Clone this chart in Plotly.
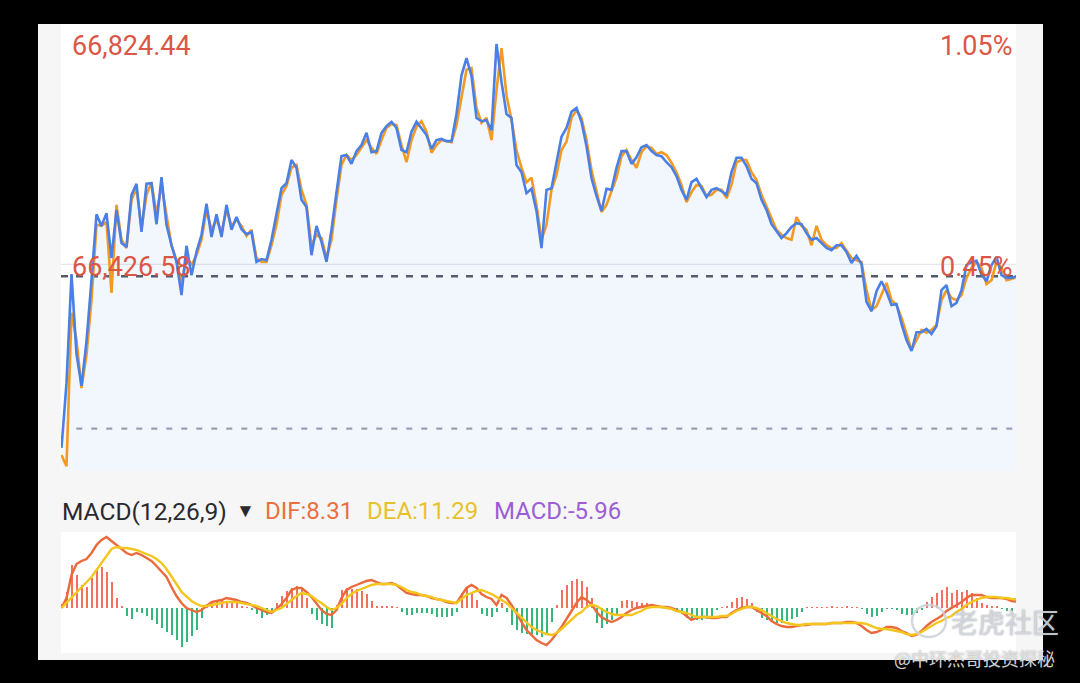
import plotly.graph_objects as go

# intraday price (blue) and the lagging average line (orange)
price = [
    66095, 66212, 66409, 66265, 66207, 66288, 66398, 66517, 66496, 66519,
    66438, 66525, 66465, 66458, 66552, 66572, 66485, 66572, 66573, 66499,
    66584, 66498, 66461, 66431, 66371, 66460, 66407, 66449, 66480, 66536,
    66476, 66517, 66476, 66534, 66489, 66512, 66490, 66481, 66485, 66431,
    66436, 66434, 66471, 66516, 66564, 66573, 66615, 66601, 66543, 66530,
    66443, 66496, 66467, 66431, 66489, 66557, 66622, 66624, 66608, 66631,
    66642, 66664, 66629, 66631, 66664, 66676, 66684, 66673, 66633, 66629,
    66666, 66684, 66673, 66660, 66635, 66651, 66653, 66649, 66649, 66698,
    66768, 66799, 66767, 66691, 66685, 66687, 66669, 66824.44, 66756, 66698,
    66691, 66606, 66593, 66555, 66563, 66523, 66456, 66561, 66564, 66608,
    66657, 66673, 66702, 66709, 66684, 66640, 66582, 66550, 66523, 66563,
    66561, 66601, 66631, 66631, 66608, 66620, 66638, 66642, 66631, 66624,
    66622, 66611, 66602, 66586, 66561, 66543, 66575, 66581, 66563, 66548,
    66561, 66564, 66559, 66552, 66593, 66619, 66619, 66604, 66581, 66573,
    66543, 66525, 66499, 66487, 66474, 66483, 66494, 66501, 66499, 66483,
    66471, 66474, 66465, 66456, 66452, 66461, 66461, 66449, 66429, 66442,
    66427, 66359, 66342, 66378, 66396, 66377, 66353, 66355, 66319, 66290,
    66270, 66304, 66304, 66310, 66301, 66315, 66380, 66389, 66351, 66357,
    66380, 66425, 66431, 66433, 66409, 66396, 66425, 66440, 66407, 66402,
    66402, 66405,
]

avg_line = [
    66082, 66062, 66339, 66290, 66203, 66263, 66362, 66498, 66496, 66503,
    66375, 66534, 66471, 66456, 66543, 66564, 66492, 66552, 66575, 66516,
    66570, 66516, 66461, 66434, 66389, 66443, 66425, 66443, 66471, 66525,
    66489, 66507, 66485, 66525, 66496, 66507, 66496, 66478, 66489, 66438,
    66431, 66431, 66461, 66498, 66552, 66568, 66601, 66606, 66561, 66534,
    66461, 66480, 66474, 66438, 66471, 66543, 66606, 66624, 66615, 66624,
    66637, 66651, 66637, 66626, 66651, 66673, 66680, 66678, 66642, 66611,
    66651, 66675, 66685, 66666, 66628, 66642, 66651, 66649, 66647, 66678,
    66732, 66778, 66781, 66709, 66682, 66691, 66651, 66741, 66817, 66732,
    66687, 66633, 66601, 66575, 66583, 66534, 66471, 66498, 66561, 66588,
    66633, 66648, 66691, 66705, 66691, 66651, 66597, 66557, 66521, 66534,
    66557, 66583, 66622, 66633, 66615, 66601, 66629, 66640, 66637, 66626,
    66629, 66624, 66610, 66593, 66570, 66539, 66557, 66570, 66568, 66550,
    66552, 66561, 66561, 66546, 66570, 66611, 66615, 66615, 66593, 66579,
    66552, 66530, 66510, 66489, 66480, 66474, 66471, 66512, 66496, 66489,
    66461, 66496, 66471, 66461, 66456, 66456, 66465, 66452, 66438, 66434,
    66431, 66380, 66344, 66351, 66371, 66393, 66362, 66353, 66330, 66299,
    66272, 66290, 66308, 66303, 66308, 66317, 66362, 66380, 66366, 66362,
    66371, 66402, 66420, 66431, 66420, 66391, 66398, 66431, 66420, 66398,
    66400, 66404,
]

# MACD(12,26,9) panel
dif = [
    0, 13.0, 42.9, 57.2, 61.1, 63.7, 71.5, 81.9, 88.4, 92.3,
    87.1, 81.9, 76.7, 71.5, 68.9, 71.5, 68.9, 65.0, 61.1, 54.6,
    48.1, 40.3, 27.3, 15.6, 6.5, 0, -2.6, -5.2, -2.6, 2.6,
    7.8, 9.1, 10.4, 13.0, 11.7, 10.4, 7.8, 6.5, 3.9, 0,
    -2.6, -5.2, -6.5, -1.3, 5.2, 13.0, 23.4, 26.0, 26.0, 20.8,
    14.3, 5.2, -2.6, -7.8, -9.1, -2.6, 13.0, 23.4, 27.3, 29.9,
    32.5, 35.1, 36.4, 33.8, 31.2, 31.2, 32.5, 29.9, 24.7, 19.5,
    18.2, 16.9, 16.9, 15.6, 13.0, 11.7, 10.4, 7.8, 6.5, 6.5,
    15.6, 26.0, 29.9, 26.0, 18.2, 14.3, 11.7, 3.9, 16.9, 13.0,
    3.9, -7.8, -18.2, -28.6, -35.1, -41.6, -45.5, -48.1, -41.6, -33.8,
    -24.7, -14.3, -3.9, 6.5, 14.3, 10.4, 5.2, -5.2, -11.7, -15.6,
    -18.2, -15.6, -11.7, -6.5, -2.6, 0, 1.3, 2.6, 3.9, 2.6,
    1.3, 1.3, 0, -2.6, -5.2, -10.4, -15.6, -13.0, -11.7, -11.7,
    -13.0, -13.0, -11.7, -11.7, -6.5, -2.6, 0, 1.3, 1.3, -2.6,
    -6.5, -10.4, -16.9, -20.8, -23.4, -24.7, -24.7, -23.4, -22.1, -22.1,
    -20.8, -20.8, -20.8, -20.8, -19.5, -19.5, -19.5, -18.2, -18.2, -19.5,
    -23.4, -28.6, -32.5, -31.2, -28.6, -24.7, -24.7, -26.0, -29.9, -32.5,
    -36.4, -35.1, -29.9, -23.4, -18.2, -14.3, -10.4, -3.9, 0, 3.9,
    7.8, 13.0, 16.9, 16.9, 16.9, 14.3, 13.0, 13.0, 13.0, 11.7,
    9.1, 8.31,
]

dea = [
    0, 6.5, 14.3, 20.8, 27.3, 33.8, 40.3, 49.4, 58.5, 68.9,
    76.7, 79.3, 78.0, 78.0, 76.7, 75.4, 72.8, 70.2, 67.6, 63.7,
    58.5, 50.7, 41.6, 31.2, 20.8, 14.3, 9.1, 5.2, 2.6, 2.6,
    3.9, 5.2, 6.5, 7.8, 7.8, 7.8, 6.5, 5.2, 3.9, 2.6,
    0, -2.6, -5.2, -2.6, 0, 5.2, 10.4, 15.6, 19.5, 18.2,
    15.6, 10.4, 6.5, 1.3, -2.6, 0, 5.2, 13.0, 18.2, 22.1,
    24.7, 27.3, 29.9, 31.2, 31.2, 31.2, 31.2, 29.9, 27.3, 23.4,
    20.8, 19.5, 16.9, 15.6, 14.3, 11.7, 10.4, 9.1, 7.8, 6.5,
    11.7, 16.9, 19.5, 22.1, 23.4, 20.8, 18.2, 14.3, 10.4, 6.5,
    0, -6.5, -13.0, -19.5, -24.7, -28.6, -31.2, -33.8, -35.1, -32.5,
    -27.3, -20.8, -14.3, -9.1, -5.2, 1.3, 3.9, 2.6, -1.3, -5.2,
    -7.8, -9.1, -9.1, -9.1, -9.1, -6.5, -3.9, 0, 1.3, 1.3,
    1.3, 0, -1.3, -3.9, -5.2, -6.5, -9.1, -11.7, -11.7, -11.7,
    -11.7, -11.7, -10.4, -10.4, -7.8, -3.9, -1.3, 1.3, 1.3, 0,
    -2.6, -6.5, -10.4, -14.3, -16.9, -19.5, -20.8, -22.1, -22.1, -20.8,
    -20.8, -20.8, -20.8, -20.8, -19.5, -19.5, -19.5, -19.5, -19.5, -19.5,
    -19.5, -20.8, -23.4, -26.0, -27.3, -27.3, -28.6, -29.9, -31.2, -33.8,
    -35.1, -33.8, -31.2, -27.3, -23.4, -19.5, -16.9, -13.0, -10.4, -5.2,
    -1.3, 3.9, 7.8, 10.4, 13.0, 14.3, 14.3, 14.3, 13.0, 13.0,
    11.7, 11.29,
]

macd_hist = [
    5.2, 20.8, 55.9, 42.9, 29.9, 27.3, 39.0, 49.4, 53.3, 46.8,
    33.8, 13.0, 2.6, -10.4, -14.3, -5.2, -6.5, -10.4, -15.6, -20.8,
    -26.0, -31.2, -35.1, -41.6, -50.7, -44.2, -36.4, -28.6, -13.0, 5.2,
    9.1, 9.1, 10.4, 6.5, 9.1, 6.5, 2.6, 1.3, -2.6, -7.8,
    -13.0, -9.1, -5.2, 6.5, 15.6, 22.1, 26.0, 28.6, 24.7, 13.0,
    -7.8, -15.6, -20.8, -23.4, -26.0, 3.9, 23.4, 26.0, 24.7, 24.7,
    22.1, 18.2, 9.1, 2.6, 2.6, 2.6, 2.6, 1.3, -5.2, -9.1,
    -9.1, -6.5, -6.5, -6.5, -7.8, -11.7, -11.7, -11.7, -10.4, -5.2,
    19.5, 26.0, 20.8, 10.4, -7.8, -10.4, -11.7, -5.2, 6.5, -5.2,
    -22.1, -28.6, -32.5, -33.8, -33.8, -35.1, -37.7, -33.8, -18.2, 3.9,
    23.4, 29.9, 35.1, 37.7, 35.1, 27.3, 13.0, -19.5, -26.0, -20.8,
    -15.6, -7.8, 9.1, 10.4, 9.1, 7.8, 6.5, 6.5, 3.9, 2.6,
    0.5, 1.3, -1.3, -2.6, -7.8, -13.0, -15.6, -15.6, -15.6, -14.3,
    -11.7, -2.6, 1.3, 2.6, 7.8, 13.0, 14.3, 11.7, 6.5, -5.2,
    -13.0, -15.6, -18.2, -19.5, -19.5, -16.9, -14.3, -11.7, -5.2, 1.3,
    0.5, 1.3, 0.5, 1.3, 2.6, 1.3, 1.3, 2.6, 1.3, 0.5,
    -1.3, -7.8, -11.7, -10.4, -5.2, -0.5, -0.5, -2.6, -7.8, -9.1,
    -9.1, -6.5, -2.6, 7.8, 14.3, 19.5, 23.4, 27.3, 19.5, 23.4,
    20.8, 23.4, 19.5, 13.0, 6.5, 3.9, 2.6, 2.6, -1.3, -3.9,
    -3.9, -5.96,
]

prev_close = 66130.0     # lower dashed line (0%)
last_price = 66405.0     # dark dashed line
mid_price = 66426.58     # thin grey line, labelled
high_price = 66824.44

top_labels = ["66,824.44", "1.05%", "66,426.58", "0.45%"]
macd_labels = ["MACD(12,26,9)", "DIF:8.31", "DEA:11.29", "MACD:-5.96"]

# --- page geometry (pixels) ---
W, H = 1080, 683
L, R, T, B = 61, 64, 24, 30


def fx(px):
    return (px - L) / (W - L - R)


def fy(py):
    return (H - B - py) / (H - T - B)


idx = list(range(len(price)))
x_range = [-0.1, 190.9]

BLUE = "#4a7fe6"
ORANGE = "#f39a22"
RED_TXT = "#dc5646"

fig = go.Figure()

# light fill under the price line
fig.add_trace(go.Scatter(
    x=idx, y=price, mode="lines", fill="tozeroy",
    fillcolor="rgba(74,127,232,0.07)", line=dict(width=0),
    hoverinfo="skip", showlegend=False,
))
fig.add_trace(go.Scatter(
    x=idx, y=avg_line, mode="lines",
    line=dict(color=ORANGE, width=2.6), showlegend=False,
))
fig.add_trace(go.Scatter(
    x=idx, y=price, mode="lines",
    line=dict(color=BLUE, width=2.6), showlegend=False,
))

# MACD histogram + lines
bar_colors = ["#f2705d" if v >= 0 else "#33b879" for v in macd_hist]
fig.add_trace(go.Bar(
    x=idx, y=macd_hist, width=0.4, marker=dict(color=bar_colors, line=dict(width=0)),
    xaxis="x2", yaxis="y2", showlegend=False,
))
fig.add_trace(go.Scatter(
    x=idx, y=dif, mode="lines", line=dict(color="#ea6a3c", width=2.4),
    xaxis="x2", yaxis="y2", showlegend=False,
))
fig.add_trace(go.Scatter(
    x=idx, y=dea, mode="lines", line=dict(color="#f4c51c", width=2.4),
    xaxis="x2", yaxis="y2", showlegend=False,
))

shapes = [
    dict(type="line", xref="x domain", yref="y", x0=0, x1=1, y0=mid_price, y1=mid_price,
         line=dict(color="#dde1e8", width=1), layer="below"),
    dict(type="line", xref="x domain", yref="y", x0=0, x1=1, y0=last_price, y1=last_price,
         line=dict(color="#555b66", width=2.6, dash="7px,8px"), layer="below"),
    dict(type="line", xref="x domain", yref="y", x0=0.016, x1=1, y0=prev_close, y1=prev_close,
         line=dict(color="#9ea4b0", width=2.2, dash="6px,9px"), layer="below"),
]

# black frame around the card
for x0, x1, y0, y1 in [(0, 38, 0, H), (1043, W, 0, H), (0, W, 0, 24), (0, W, 660, H)]:
    shapes.append(dict(type="rect", xref="paper", yref="paper",
                       x0=fx(x0), x1=fx(x1), y0=fy(y1), y1=fy(y0),
                       fillcolor="black", line=dict(width=0), layer="below"))

# watermark logo ring
shapes.append(dict(type="circle", xref="paper", yref="paper",
                   x0=fx(912), x1=fx(946), y0=fy(637), y1=fy(605),
                   line=dict(color="rgba(205,208,216,0.85)", width=2.5), layer="above"))

annotations = []


def label(text, px, py, color, size, anchor="left", family="Roboto", shadow=None):
    font = dict(family=family, size=size, color=color)
    if shadow:
        font["shadow"] = shadow
    annotations.append(dict(
        text=text, x=fx(px), y=fy(py), xref="paper", yref="paper",
        xanchor=anchor, yanchor="middle", showarrow=False, font=font,
    ))


label(top_labels[0], 70, 46, RED_TXT, 27)
label(top_labels[1], 1014, 46, RED_TXT, 27, anchor="right")
label(top_labels[2], 70, 267, RED_TXT, 27)
label(top_labels[3], 1014, 267, RED_TXT, 27, anchor="right")

label(macd_labels[0], 60, 511, "#2a2a2e", 24.5)
label("▼", 245, 510, "#2a2a2e", 19, anchor="center")
label(macd_labels[1], 263, 511, "#e9703f", 24)
label(macd_labels[2], 365, 511, "#e8c22e", 24)
label(macd_labels[3], 492, 511, "#9c5ed6", 24)

label("老虎社区", 1005, 621, "rgba(214,217,224,0.9)", 27, anchor="center",
      family="Noto Sans CJK SC", shadow="0px 0px 2px rgba(90,92,100,0.6)")
label("@中环杰哥投资探秘", 974, 658, "rgba(228,228,230,0.92)", 18, anchor="center",
      family="Noto Sans CJK SC", shadow="0px 0px 2px rgba(60,60,60,0.5)")

fig.update_layout(
    width=W, height=H,
    margin=dict(l=L, r=R, t=T, b=B),
    paper_bgcolor="#f6f6f7",
    plot_bgcolor="#ffffff",
    showlegend=False,
    xaxis=dict(domain=[0, 1], range=x_range, visible=False, anchor="y"),
    yaxis=dict(domain=[fy(471), 1], range=[66053.3, 66860.6], visible=False, anchor="x"),
    xaxis2=dict(domain=[0, 1], range=x_range, visible=False, anchor="y2", matches="x"),
    yaxis2=dict(domain=[0, fy(532)], range=[-58.5, 98.8], visible=False, anchor="x2"),
    shapes=shapes,
    annotations=annotations,
    bargap=0,
)

# drop the default 8px body margin so the figure sits at the window origin
fig.write_html(
    "out.html",
    config={"displayModeBar": False},
    post_script="document.body.style.margin='0';",
)
